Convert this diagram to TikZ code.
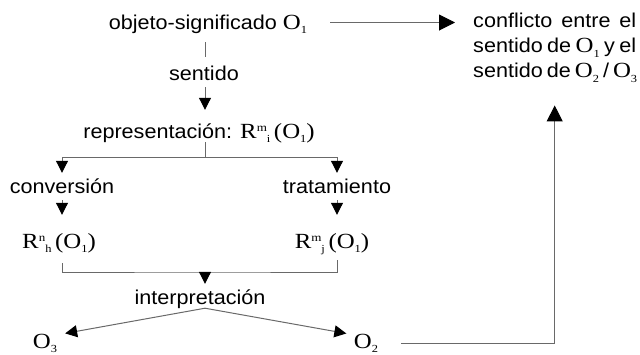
\documentclass[tikz,border=0pt]{standalone}
\usepackage{fontspec}
\setmainfont{Liberation Sans}[FakeStretch=1.08]
\newfontfamily\serif{Liberation Serif}[FakeStretch=1.15,Scale=1.08]
\usetikzlibrary{arrows.meta}
\definecolor{wire}{RGB}{105,105,105}
\newcommand{\up}[1]{\raisebox{.7ex}{\fontsize{10.5}{10}\selectfont #1}}
\newcommand{\dn}[1]{\raisebox{-.45ex}{\fontsize{10}{10}\selectfont #1}}
\newcommand{\Ob}[1]{{\serif O\dn{#1}}}
\tikzset{lbl/.style={inner sep=0pt,anchor=base,text height=13pt,text depth=4pt},
 link/.style={draw=wire,line width=1pt},
 arr/.style={-{Triangle[length=12pt,width=12pt,color=black]}},
 bigarr/.style={-{Triangle[length=16pt,width=16pt,color=black]}},
 }

\begin{document}
\begin{tikzpicture}[x=1pt,y=-1pt,font=\fontsize{20}{25}\selectfont]
        \useasboundingbox (0,0) rectangle (640,354);
        \coordinate (trunk) at (205,157);
        \coordinate (join) at (205,272);
        \node[lbl] (obj) at (208,29) {objeto-significado \Ob{1}};
        \node[lbl] (sent) at (204,80) {sentido};
        \node[lbl] (rep) at (199,138) {representación: {\serif R\up{m}\dn{i}\,(O\dn{1})}};
        \node[lbl] (conv) at (62,193) {conversión};
        \node[lbl] (trat) at (337,193) {tratamiento};
        \node[lbl] (rnh) at (59,248) {\serif R\up{n}\dn{h}\,(O\dn{1})};
        \node[lbl] (rmj) at (332,248) {\serif R\up{m}\dn{j}\,(O\dn{1})};
        \node[lbl] (interp) at (200,304) {interpretación};
        \node[lbl] (othree) at (45,348) {\Ob{3}};
        \node[lbl] (otwo) at (366,348) {\Ob{2}};
        \node[inner sep=0pt,anchor=north west,align=left] (conf) at (473,13)
            {\makebox[163pt][s]{conflicto entre el}\\
             \makebox[163pt][s]{sentido de \Ob{1} y el}\\
             \makebox[163pt][s]{sentido de \Ob{2} / \Ob{3}}};
        \draw[link,shorten <=9pt,shorten >=10pt] (obj.south -| trunk) -- (sent.north -| trunk);
        \draw[link,arr,shorten <=3pt,shorten >=15pt] (sent.south -| trunk) -- (rep.north -| trunk);
        \draw[link] (rep.south -| trunk) -- (trunk);
        \draw[link,arr,shorten >=7pt] (trunk) -| (conv.north);
        \draw[link,arr,shorten >=7pt] (trunk) -| (trat.north);
        \draw[link,arr,shorten <=3pt,shorten >=20pt] (conv.south) -- (conv.south |- rnh.north);
        \draw[link,arr,shorten <=3pt,shorten >=20pt] (trat.south) -- (trat.south |- rmj.north);
        \draw[link,shorten <=11pt,shorten >=8pt] (conv |- rnh.south) |- (join) -| (trat |- rmj.south);
        \draw[link,arr,shorten >=7pt] (join) -- (join |- interp.north);
        \draw[link,arr,shorten >=8pt] (interp.south -| trunk) -- (othree.north east);
        \draw[link,arr,shorten >=7.5pt] (interp.south -| trunk) -- (otwo.north west);
        \draw[link,bigarr,shorten <=23pt,shorten >=23pt] (otwo.east) -| (conf.south);
        \draw[link,bigarr,shorten <=23pt,shorten >=18pt] ([yshift=2pt]obj.east) -- ([yshift=2pt]obj.east -| conf.west);
    \end{tikzpicture}
\end{document}
